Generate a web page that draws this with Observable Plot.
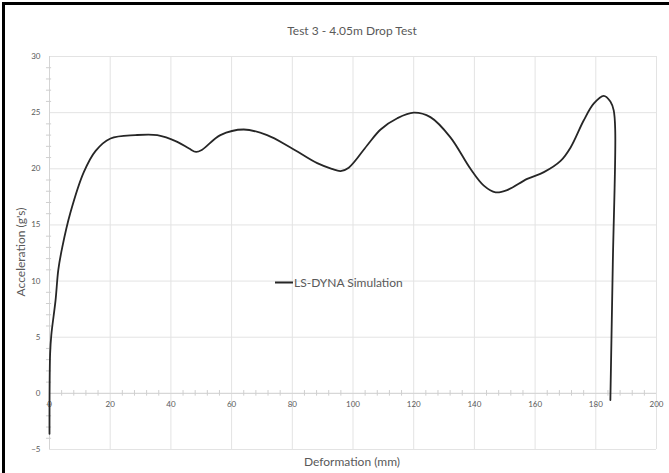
<!DOCTYPE html>
<html>
<head>
<meta charset="utf-8">
<script src="https://cdn.jsdelivr.net/npm/d3@7"></script>
<script src="https://cdn.jsdelivr.net/npm/@observablehq/plot@0.6"></script>
<style>
  html, body { margin: 0; padding: 0; background: #fff; }
  #wrap { position: relative; width: 669px; height: 473px; overflow: hidden; font-family: Lato, "Open Sans", sans-serif; color: #595959; }
  #border { position: absolute; left: 2px; top: 2px; width: 700px; height: 500px; border-top: 3px solid #000; border-left: 3px solid #000; pointer-events: none; }
  .lbl { position: absolute; white-space: nowrap; font-size: 12px; color: #595959; }
  #title { left: 352px; top: 30px; transform: translate(-50%, -50%); }
  #xlabel { left: 352px; top: 461px; transform: translate(-50%, -50%); }
  #ylabel { left: 20px; top: 252px; transform: translate(-50%, -50%) rotate(-90deg); }
  #legend { left: 275px; top: 282px; transform: translateY(-50%); display: flex; align-items: center; }
  #legend .sw { width: 18px; height: 0; border-top: 2px solid #262626; margin-right: 1px; }
  svg { position: absolute; left: 0; top: 0; }
</style>
</head>
<body>
<div id="wrap"></div>
<script>
const title = "Test 3 - 4.05m Drop Test";
const xLabel = "Deformation (mm)";
const yLabel = "Acceleration (g's)";
const seriesName = "LS-DYNA Simulation";

const xTicks = [0, 20, 40, 60, 80, 100, 120, 140, 160, 180, 200];
const yTicks = [-5, 0, 5, 10, 15, 20, 25, 30];

const deformation = [0, 0.2, 0.6, 2.0, 2.9, 4.2, 6.9, 11.3, 15.2, 20.1, 28.3, 35.5, 42.1, 46.0, 48.3, 50.3, 56.3, 64.0, 71.7, 79.4, 88.2, 93.0, 95.9, 98.6, 104.7, 109.1, 114.6, 120.0, 125.5, 132.1, 138.7, 143.1, 147.0, 150.8, 157.4, 162.9, 168.4, 171.7, 176.0, 179.3, 182.6, 184.8, 185.9, 186.4, 185.6, 184.8];
const acceleration = [-3.6, 3.5, 5.2, 8.3, 11.0, 13.0, 16.1, 19.7, 21.6, 22.7, 23.0, 23.0, 22.4, 21.8, 21.5, 21.7, 23.0, 23.5, 23.0, 21.9, 20.5, 20.0, 19.8, 20.1, 22.1, 23.5, 24.5, 25.0, 24.6, 22.8, 20.0, 18.5, 17.9, 18.1, 19.1, 19.7, 20.7, 21.9, 24.3, 25.8, 26.5, 26.0, 25.2, 23.4, 11.5, -0.6];

const data = deformation.map((d, i) => ({x: d, y: acceleration[i]}));
const xMinor = d3.range(0, 201, 4).filter(v => v % 20 !== 0);
const yMinor = d3.range(-5, 31, 1).filter(v => v % 5 !== 0);

const gridColor = "#e3e3e3";

const chart = Plot.plot({
  width: 669,
  height: 473,
  marginLeft: 49,
  marginRight: 13,
  marginTop: 56,
  marginBottom: 24,
  style: {fontFamily: "Lato, 'Open Sans', sans-serif", color: "#595959", background: "transparent"},
  x: {domain: [0, 200], axis: null},
  y: {domain: [-5, 30], axis: null},
  marks: [
    Plot.ruleX(xTicks, {x: d => d, y1: -5, y2: 30, stroke: gridColor, strokeWidth: 1}),
    Plot.ruleY(yTicks, {y: d => d, x1: 0, x2: 200, stroke: gridColor, strokeWidth: 1}),
    Plot.ruleY([0], {y: d => d, x1: 0, x2: 200, stroke: "#d4d4d4", strokeWidth: 1}),
    Plot.ruleX([0], {x: d => d, y1: -5, y2: 30, stroke: "#d4d4d4", strokeWidth: 1}),
    Plot.ruleX(xMinor, {x: d => d, y1: -0.25, y2: 0.25, stroke: "#cfcfcf", strokeWidth: 1}),
    Plot.ruleY(yMinor, {y: d => d, x1: -1, x2: 0.7, stroke: "#cfcfcf", strokeWidth: 1}),
    Plot.axisY(yTicks, {tickSize: 0, tickPadding: 9, fontSize: 8, label: null, fill: "#595959"}),
    Plot.text(xTicks, {x: d => d, y: 0, dy: 11, text: d => String(d), fontSize: 8, fill: "#595959"}),
    Plot.line(data, {x: "x", y: "y", stroke: "#262626", strokeWidth: 1.8, curve: "catmull-rom"})
  ]
});

const wrap = document.getElementById("wrap");
wrap.appendChild(chart);
const add = (id, text) => { const d = document.createElement("div"); d.id = id; d.className = "lbl"; d.textContent = text; wrap.appendChild(d); return d; };
add("title", title);
add("xlabel", xLabel);
add("ylabel", yLabel);
const lg = document.createElement("div");
lg.id = "legend"; lg.className = "lbl";
const sw = document.createElement("span"); sw.className = "sw";
const lt = document.createElement("span"); lt.textContent = seriesName;
lg.appendChild(sw); lg.appendChild(lt);
wrap.appendChild(lg);
const b = document.createElement("div"); b.id = "border"; wrap.appendChild(b);
</script>
</body>
</html>
